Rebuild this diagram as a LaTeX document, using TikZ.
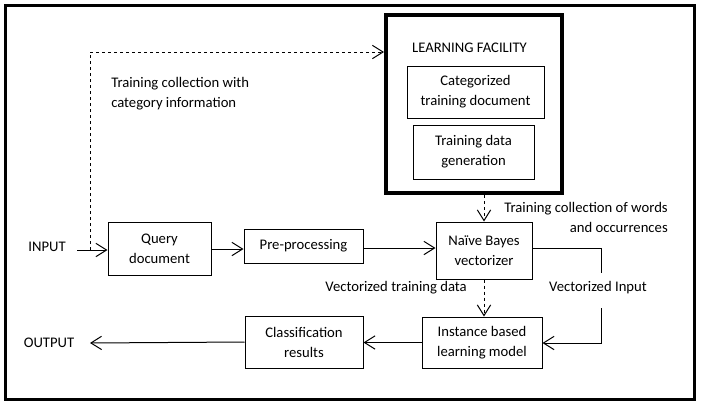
\documentclass[tikz,border=0pt]{standalone}
\usepackage{fontspec}
\setmainfont{Carlito}
\usetikzlibrary{arrows.meta}
\begin{document}
\begin{tikzpicture}[x=0.75pt,y=-0.75pt,
  every node/.style={font=\fontsize{11pt}{15pt}\selectfont, inner sep=0pt},
  box/.style={draw, line width=0.75pt, align=center},
  arr/.style={line width=0.75pt, -{Straight Barb[length=8pt,width=10pt]}},
  ln/.style={line width=0.75pt},
  dsh/.style={line width=0.75pt, dash pattern=on 2.5pt off 2pt}]
\useasboundingbox (0,0) rectangle (701,404);
\draw[line width=2.25pt] (5,5) rectangle (694,399);
% learning facility
\node[draw, line width=3pt, minimum width=176*0.75pt, minimum height=178*0.75pt] (fac) at (474,104) {};
\node (lf) at (469.5,48) {LEARNING FACILITY};
\node[box, minimum width=137*0.75pt, minimum height=52*0.75pt] (cat) at (475.5,92) {Categorized\\training document};
\node[box, minimum width=121*0.75pt, minimum height=54*0.75pt] (tdg) at (473.5,152) {Training data\\generation};
% main boxes
\node[box, minimum width=103*0.75pt, minimum height=53*0.75pt] (q) at (159.5,248.5) {Query\\document};
\node[box, minimum width=119*0.75pt, minimum height=34*0.75pt] (pp) at (303.5,246) {Pre-processing};
\node[box, minimum width=96*0.75pt, minimum height=57*0.75pt] (nb) at (484,250.5) {Naïve Bayes\\vectorizer};
\node[box, minimum width=120*0.75pt, minimum height=51*0.75pt] (ibl) at (482,342.5) {Instance based\\learning model};
\node[box, minimum width=118*0.75pt, minimum height=52*0.75pt] (cl) at (304,342) {Classification\\results};
% labels
\node (in) at (47,247) {INPUT};
\node (out) at (49,343) {OUTPUT};
\node[anchor=west, align=left] (tcw) at (111,94) {Training collection with\\category information};
\node[anchor=east, align=right] (tco) at (668,217.5) {Training collection of words\\and occurrences};
\node (vi) at (598,288) {Vectorized Input};
\node[anchor=east] (vt) at (467,288) {Vectorized training data};
% coordinates
\coordinate (inS) at (77,250);
\coordinate (inJ) at (90,250);
\coordinate (top) at (90,52);
\coordinate (outE) at (90,343);
\coordinate (vr1) at (601,248);
\coordinate (vr2) at (601,273);
\coordinate (vr3) at (601,308);
\coordinate (vr4) at (601,343);
% connectors
\draw[arr] (inS) -- (inS -| q.west);
\draw[dsh] (inJ) -- (top);
\draw[dsh, -{Straight Barb[length=8pt,width=10pt]}] (top) -- (top -| fac.west);
\draw[arr] (q.east |- 0,249) -- (pp.west |- 0,249);
\draw[arr] (pp.east |- 0,248) -- (nb.west |- 0,248);
\draw[dsh, -{Straight Barb[length=8pt,width=10pt]}] (nb.north |- fac.south) -- (nb.north);
\draw[dsh, -{Straight Barb[length=8pt,width=10pt]}] (nb.south) -- (nb.south |- ibl.north);
\draw[ln] (nb.east |- vr1) -- (vr1) -- (vr2);
\draw[arr] (vr3) -- (vr4) -- (vr4 -| ibl.east);
\draw[arr] (ibl.west) -- (ibl.west -| cl.east);
\draw[arr] (cl.west) -- (outE);
\end{tikzpicture}
\end{document}
